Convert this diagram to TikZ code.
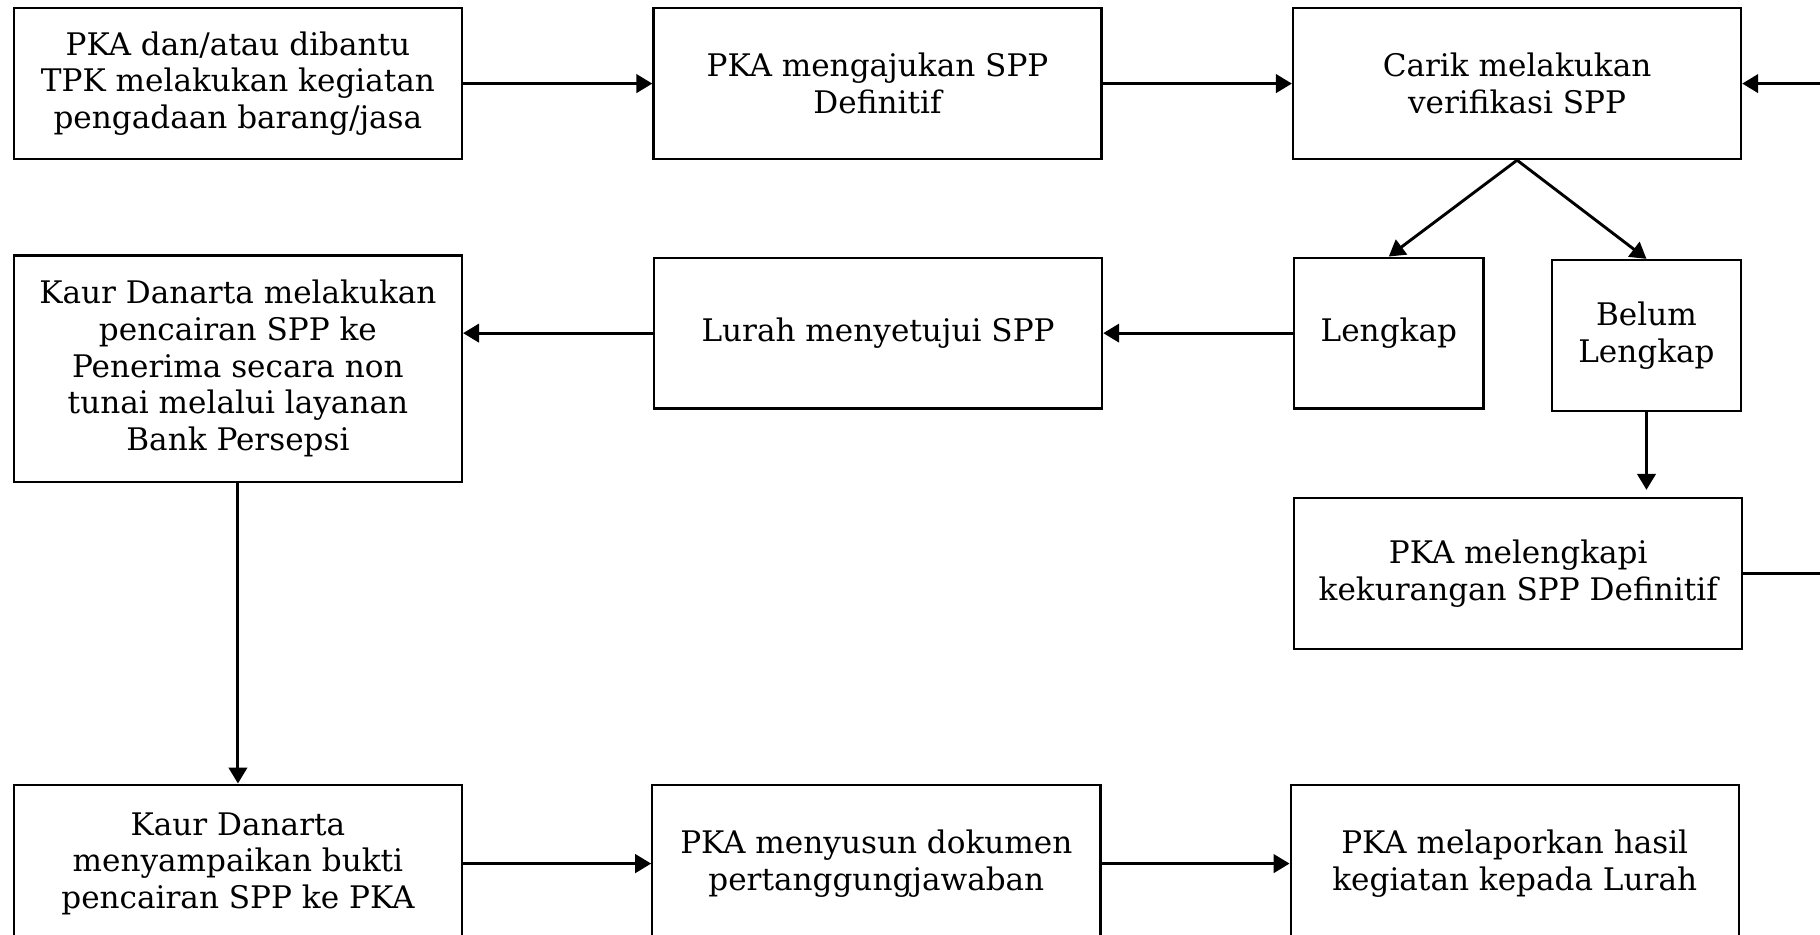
\documentclass[tikz,border=0pt]{standalone}
\usepackage{fontspec}
\setmainfont{DejaVu Serif}
\usetikzlibrary{positioning, chains, arrows.meta}

\begin{document}
\begin{tikzpicture}[x=0.5pt, y=-0.5pt,
   -{Triangle[scale=1.1]}, line width=1.25pt,
   box/.style = {draw, line width=1pt, align=center, inner sep=2pt,
      font=\fontsize{13.4}{15.8}\selectfont},
   wide/.style = {box, minimum width=193pt, minimum height=65pt},
   narrow/.style = {box, minimum width=81.5pt, minimum height=65pt}]
   \useasboundingbox (0,0) rectangle (1568,805);
   % top row
   \begin{scope}[start chain = upper going right, node distance = 81.5pt]
     \node[wide, on chain] (a) at (205,72) {PKA dan/atau dibantu\\TPK melakukan kegiatan\\pengadaan barang/jasa};
     \node[wide, on chain] (b) {PKA mengajukan SPP\\Definitif};
     \node[wide, on chain] (c) {Carik melakukan\\verifikasi SPP};
   \end{scope}
   % middle
   \node[wide, minimum height=97.5pt] (d) at (205,317.5) {Kaur Danarta melakukan\\pencairan SPP ke\\Penerima secara non\\tunai melalui layanan\\Bank Persepsi};
   \node[wide] (e) at (756.5,287) {Lurah menyetujui SPP};
   \node[narrow] (f) at (1196.5,287) {Lengkap};
   \node[narrow] (g) at (1418.5,289) {Belum\\Lengkap};
   \node[wide] (h) at (1308,494) {PKA melengkapi\\kekurangan SPP Definitif};
   % bottom row
   \begin{scope}[start chain = lower going right, node distance = 81pt]
     \node[wide, minimum height=68pt, on chain] (i) at (205,744) {Kaur Danarta\\menyampaikan bukti\\pencairan SPP ke PKA};
     \node[wide, minimum height=68pt, on chain] (j) {PKA menyusun dokumen\\pertanggungjawaban};
     \node[wide, minimum height=68pt, on chain] (k) {PKA melaporkan hasil\\kegiatan kepada Lurah};
   \end{scope}
   \foreach \x/\y in {a/b, b/c, i/j, j/k}
     \draw (\x) -- (\y);
   \draw (c.south) -- (f.north);
   \draw (c.south) -- (g.north);
   \draw (f.west) -- (f.west -| e.east);
   \draw (e.west) -- (e.west -| d.east);
   \draw (d.south) -- (i.north);
   \draw[shorten >=3pt] (g.south) -- (g.south |- h.north);
   \draw (h.east) -- ++(80,0) |- (c.east);
\end{tikzpicture}
\end{document}
